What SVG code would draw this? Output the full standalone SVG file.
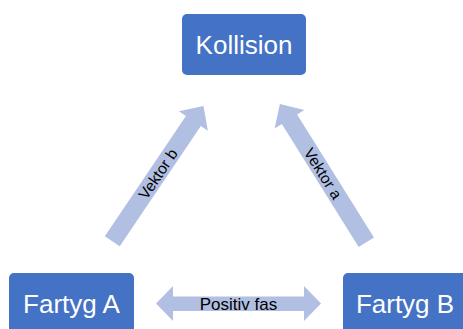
<svg xmlns="http://www.w3.org/2000/svg" width="463" height="329" viewBox="0 0 463 329">
<style>
.box{fill:#4472C4;}
.boxtxt{font-family:"Liberation Sans",Arial,sans-serif;font-size:26px;fill:#FFFFFF;text-anchor:middle;}
.arr{fill:#B1BFE2;}
.lbl{font-family:"Liberation Sans",Arial,sans-serif;fill:#000000;text-anchor:middle;}
</style>
<defs>
<polygon id="diag" points="0,-9 145,-9 145,-17.5 163,0 145,17.5 145,9 0,9"/>
</defs>
<rect width="463" height="329" fill="#FFFFFF"/>
<g id="connectors">
  <g id="vektor-b">
    <use href="#diag" class="arr" transform="translate(112.3,241.2) rotate(-56)"/>
    <text class="lbl" font-size="15.5" transform="translate(158,174) rotate(-56)" y="5.4">Vektor b</text>
  </g>
  <g id="vektor-a">
    <use href="#diag" class="arr" transform="translate(366.3,242.2) rotate(-122)"/>
    <text class="lbl" font-size="15.5" transform="translate(323,173.5) rotate(58)" y="5.4">Vektor a</text>
  </g>
  <g id="positiv-fas">
    <polygon class="arr" points="156,303.5 173,286 173,296.5 304,296.5 304,286 321,303.5 304,321 304,311 173,311 173,321"/>
    <text class="lbl" font-size="17" x="238.5" y="309.5">Positiv fas</text>
  </g>
</g>
<g id="kollision">
  <rect class="box" x="182" y="14" width="124" height="61" rx="5"/>
  <text class="boxtxt" x="244" y="54">Kollision</text>
</g>
<g id="fartyg-a">
  <rect class="box" x="9" y="273" width="125" height="61" rx="5"/>
  <text class="boxtxt" x="71.5" y="313">Fartyg A</text>
</g>
<g id="fartyg-b">
  <rect class="box" x="343" y="273" width="125" height="61" rx="5"/>
  <text class="boxtxt" x="405" y="313">Fartyg B</text>
</g>
</svg>
